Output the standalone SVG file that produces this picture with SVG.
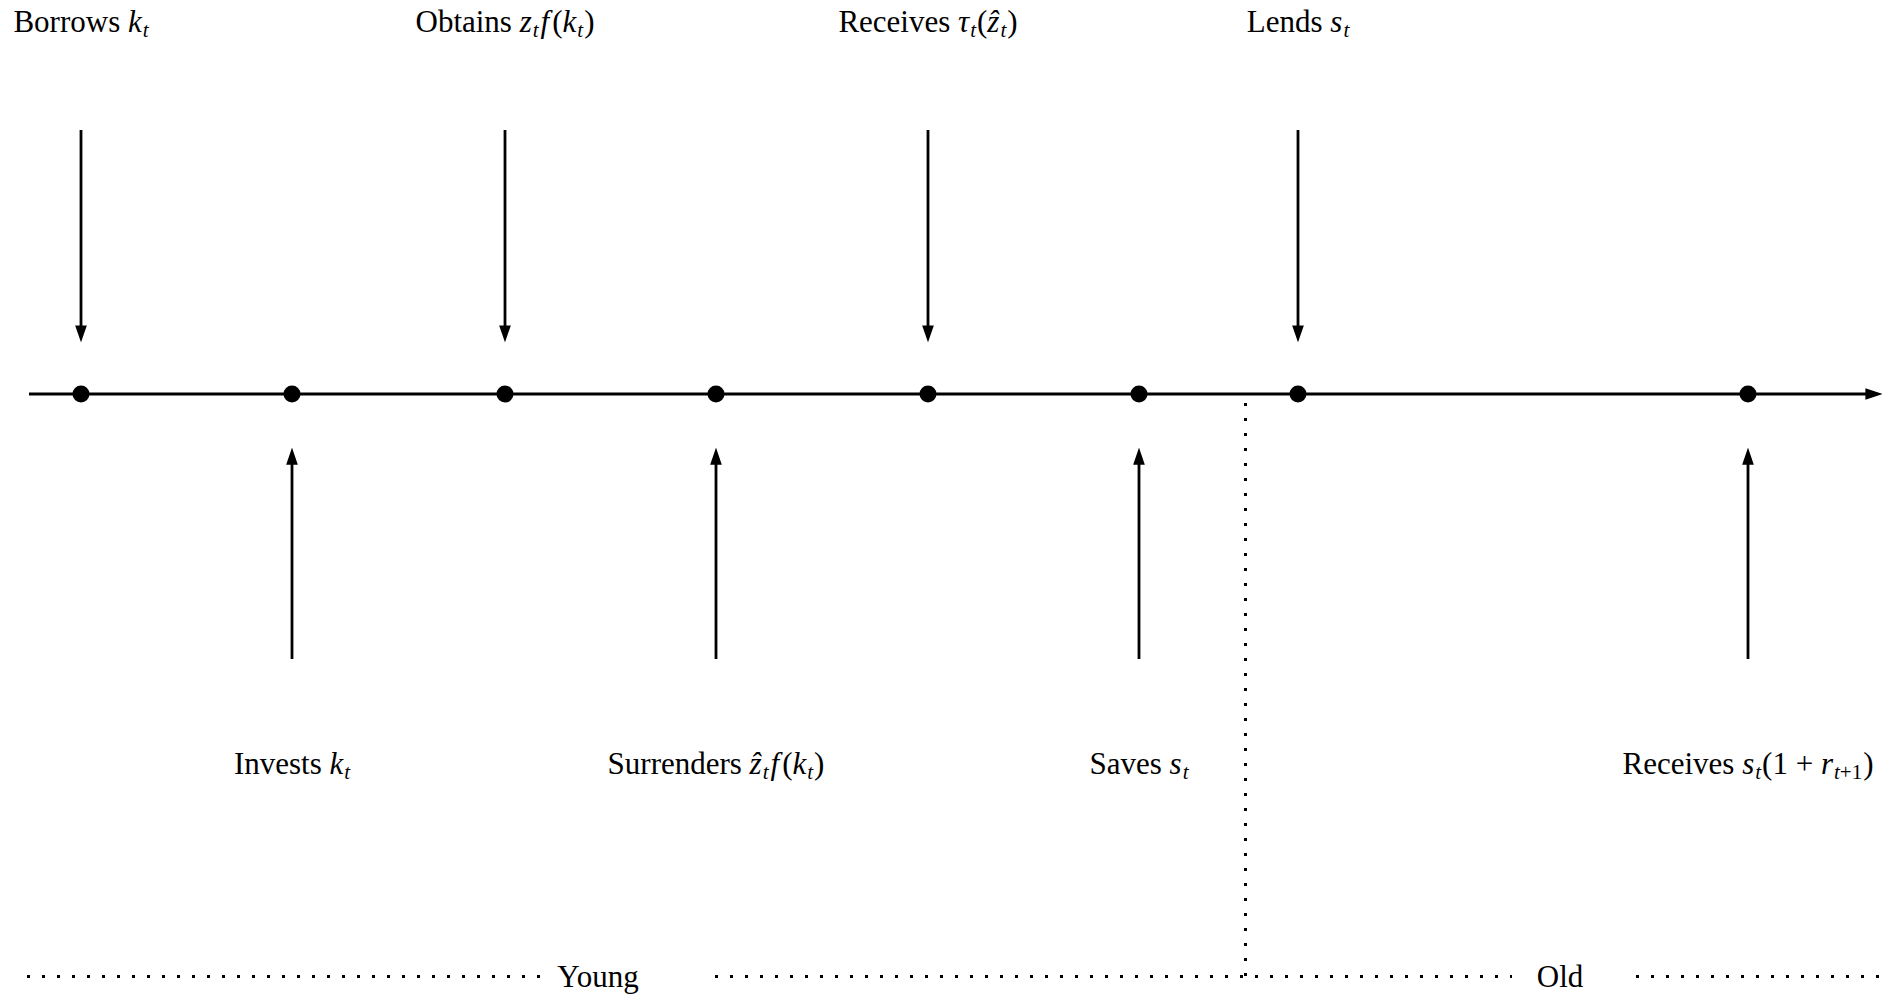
<svg xmlns="http://www.w3.org/2000/svg" width="1902" height="1004" viewBox="0 0 1902 1004">
<style>
  text { font-family: "Liberation Serif", "DejaVu Serif", serif; font-size: 31px; fill: #000; text-anchor: middle; }
  .m { font-style: italic; }
  .s { font-size: 21px; font-style: italic; }
  .sn { font-size: 21px; }
  .arr { stroke: #000; stroke-width: 2.8; fill: none; marker-end: url(#ah); }
  .axis { stroke: #000; stroke-width: 3; fill: none; marker-end: url(#ah); }
  .dot { stroke: #000; stroke-width: 3; stroke-dasharray: 3 12; fill: none; }
  circle { fill: #000; }
</style>
<defs>
  <marker id="ah" markerUnits="userSpaceOnUse" markerWidth="17" markerHeight="12" refX="10" refY="5.5" orient="auto" viewBox="0 0 16 11">
    <path d="M0,0 L16,5.5 L0,11 Z" fill="#000"/>
  </marker>
</defs>
<rect width="1902" height="1004" fill="#fff"/>

<g id="connectors">
  <path class="axis" d="M29,394 H1876"/>
  <path class="arr" d="M81,130 V336"/>
  <path class="arr" d="M505,130 V336"/>
  <path class="arr" d="M928,130 V336"/>
  <path class="arr" d="M1298,130 V336"/>
  <path class="arr" d="M292,659 V454"/>
  <path class="arr" d="M716,659 V454"/>
  <path class="arr" d="M1139,659 V454"/>
  <path class="arr" d="M1748,659 V454"/>
  <path class="dot" d="M1245.5,403 V978"/>
  <path class="dot" d="M27,976.5 H540"/>
  <path class="dot" d="M715,976.5 H1512"/>
  <path class="dot" d="M1636,976.5 H1886"/>
</g>

<g id="dots">
  <circle cx="81" cy="394" r="8.5"/>
  <circle cx="292" cy="394" r="8.5"/>
  <circle cx="505" cy="394" r="8.5"/>
  <circle cx="716" cy="394" r="8.5"/>
  <circle cx="928" cy="394" r="8.5"/>
  <circle cx="1139" cy="394" r="8.5"/>
  <circle cx="1298" cy="394" r="8.5"/>
  <circle cx="1748" cy="394" r="8.5"/>
</g>

<g id="borrows"><text x="81" y="32">Borrows <tspan class="m">k</tspan><tspan class="s" dx="1" dy="5">t</tspan></text></g>
<g id="obtains"><text x="505" y="32">Obtains <tspan class="m">z</tspan><tspan class="s" dx="1" dy="5">t</tspan><tspan class="m" dx="2" dy="-5">f</tspan><tspan dx="3">(</tspan><tspan class="m">k</tspan><tspan class="s" dx="1" dy="5">t</tspan><tspan dx="1" dy="-5">)</tspan></text></g>
<g id="receives-tau"><text x="928" y="32">Receives <tspan class="m">τ</tspan><tspan class="s" dx="1" dy="5">t</tspan><tspan dx="1" dy="-5">(</tspan><tspan class="m">ẑ</tspan><tspan class="s" dx="1" dy="5">t</tspan><tspan dx="1" dy="-5">)</tspan></text></g>
<g id="lends"><text x="1298" y="32">Lends <tspan class="m">s</tspan><tspan class="s" dx="1" dy="5">t</tspan></text></g>

<g id="invests"><text x="292" y="774">Invests <tspan class="m">k</tspan><tspan class="s" dx="1" dy="5">t</tspan></text></g>
<g id="surrenders"><text x="716" y="774">Surrenders <tspan class="m">ẑ</tspan><tspan class="s" dx="1" dy="5">t</tspan><tspan class="m" dx="2" dy="-5">f</tspan><tspan dx="3">(</tspan><tspan class="m">k</tspan><tspan class="s" dx="1" dy="5">t</tspan><tspan dx="1" dy="-5">)</tspan></text></g>
<g id="saves"><text x="1139" y="774">Saves <tspan class="m">s</tspan><tspan class="s" dx="1" dy="5">t</tspan></text></g>
<g id="receives-s"><text x="1748" y="774">Receives <tspan class="m">s</tspan><tspan class="s" dx="1" dy="5">t</tspan><tspan dx="1" dy="-5">(1 + </tspan><tspan class="m">r</tspan><tspan class="s" dx="1" dy="5">t</tspan><tspan class="sn">+1</tspan><tspan dx="1" dy="-5">)</tspan></text></g>

<g id="young"><text x="598" y="987">Young</text></g>
<g id="old"><text x="1560" y="987">Old</text></g>
</svg>
